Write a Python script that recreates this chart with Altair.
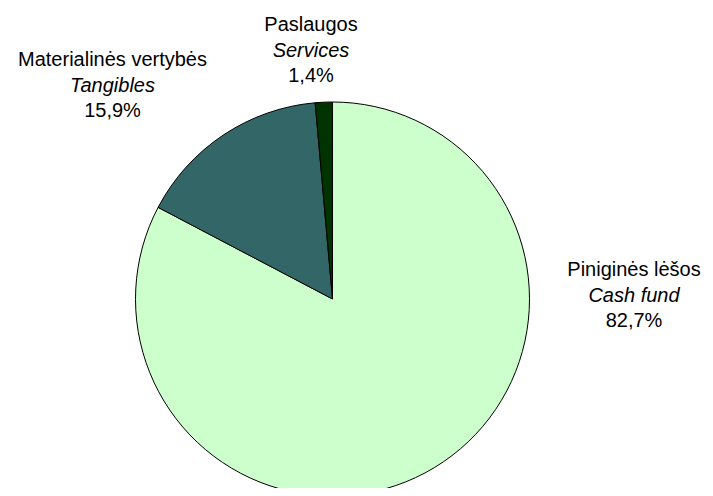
import altair as alt
import pandas as pd

categories = ["Piniginės lėšos", "Materialinės vertybės", "Paslaugos"]
categories_en = ["Cash fund", "Tangibles", "Services"]
shares = [82.7, 15.9, 1.4]
share_labels = ["82,7%", "15,9%", "1,4%"]
colors = ["#CCFFCC", "#336666", "#003300"]

df = pd.DataFrame({
    "cat": categories,
    "en": categories_en,
    "share": shares,
    "label": share_labels,
    "idx": list(range(len(categories))),
})

FONT = "Liberation Sans"
FS = 20

base = alt.Chart(df)

pie = base.mark_arc(radius=197, stroke="black", strokeWidth=1).encode(
    theta=alt.Theta("share:Q", stack=True),
    order=alt.Order("idx:Q"),
    color=alt.Color("cat:N", scale=alt.Scale(domain=categories, range=colors), legend=None),
    x=alt.value(324.5),
    y=alt.value(291),
)

# label anchor (view coords): center x, baseline y of first line
anchors = {
    "Piniginės lėšos": (626, 268),
    "Materialinės vertybės": (104.5, 58),
    "Paslaugos": (303, 23),
}
LH = 25.5

layers = [pie]
for cat, (ax, ay) in anchors.items():
    sub = base.transform_filter(alt.datum.cat == cat)
    common = dict(align="center", baseline="alphabetic", font=FONT, fontSize=FS, color="black")
    layers.append(sub.mark_text(**common).encode(text="cat:N", x=alt.value(ax), y=alt.value(ay)))
    layers.append(sub.mark_text(fontStyle="italic", **common).encode(text="en:N", x=alt.value(ax), y=alt.value(ay + LH)))
    layers.append(sub.mark_text(**common).encode(text="label:N", x=alt.value(ax), y=alt.value(ay + 2 * LH)))

chart = alt.layer(*layers).properties(
    width=697, height=480, autosize=alt.AutoSizeParams(type="none"), padding=0
).configure_view(stroke=None)

chart.save("out.html", embed_options={"renderer": "svg", "actions": False})
